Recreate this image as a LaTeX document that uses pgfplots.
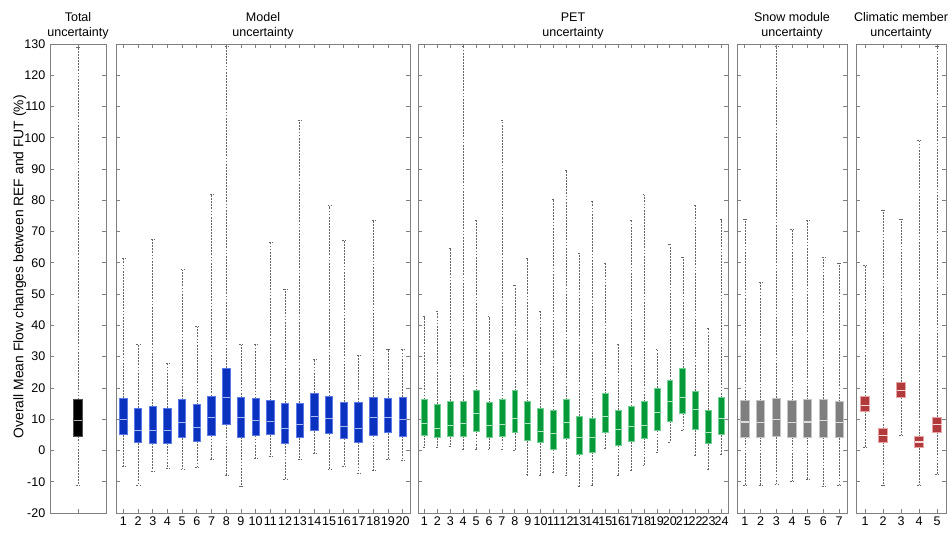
\documentclass[border=0pt]{standalone}
\usepackage{fontspec}
\setmainfont{Liberation Sans}
\usepackage{pgfplots}
\pgfplotsset{compat=1.18}
\usepgfplotslibrary{statistics}

\definecolor{axgray}{HTML}{808080}
\definecolor{wgray}{HTML}{666666}
\definecolor{cTot}{HTML}{000000}
\definecolor{cTotE}{HTML}{505050}
\definecolor{cTotM}{HTML}{B0B0B0}
\definecolor{cMod}{HTML}{0A32BE}
\definecolor{cModE}{HTML}{5A78E6}
\definecolor{cModM}{HTML}{A8B8F2}
\definecolor{cPet}{HTML}{06993A}
\definecolor{cPetE}{HTML}{70D092}
\definecolor{cPetM}{HTML}{B4E8C4}
\definecolor{cSnow}{HTML}{7F7F7F}
\definecolor{cSnowE}{HTML}{C4C4C4}
\definecolor{cSnowM}{HTML}{DCDCDC}
\definecolor{cClim}{HTML}{B03A3C}
\definecolor{cClimE}{HTML}{E8A4A4}
\definecolor{cClimM}{HTML}{F6D8D8}

\pgfplotsset{
  panel/.style={
    scale only axis, height=351.75pt, ymin=-20, ymax=130,
    ytick={-20,-10,...,130}, yticklabels={},
    axis line style={draw=axgray, line width=0.7pt},
    every tick/.style={draw=axgray, line width=0.6pt},
    major tick length=3pt, tick align=inside,
    xtick pos=both, ytick pos=both,
    ticklabel style={font=\fontsize{9.4}{10}\selectfont},
    xticklabel style={yshift=0.5pt},
    /pgf/number format/assume math mode=true,
    title style={align=center, font=\fontsize{9.4}{11}\selectfont, yshift=-5.5pt},
    anchor=south west,
    boxplot/draw direction=y,
    boxplot/box extend=0.5,
    boxplot/whisker extend=0.22,
    boxplot/every whisker/.style={draw=wgray, line width=0.45pt, dash pattern=on 1.4pt off 0.9pt},
  },
  pcol/.style n args={3}{
    boxplot/every box/.style={fill=#1, draw=#2, line width=0.6pt},
    boxplot/every median/.style={draw=#3, line width=0.8pt},
  },
}

\begin{document}
\begin{tikzpicture}
\useasboundingbox (0,0) rectangle (711.75pt,404.25pt);

% Total uncertainty
\begin{axis}[panel, pcol={cTot}{cTotE}{cTotM}, at={(37.5pt,19.5pt)}, width=42pt,
  xmin=0.5, xmax=1.5, xtick={1}, xticklabels={},
  yticklabels={-20,-10,0,10,20,30,40,50,60,70,80,90,100,110,120,130},
  ylabel={Overall Mean Flow changes between REF and FUT (\%)},
  ylabel style={font=\fontsize{10.4}{12}\selectfont, at={(axis description cs:-0.54,0.525)}, anchor=center},
  boxplot/box extend=0.15, boxplot/whisker extend=0.08,
  title={Total\\uncertainty}]
\addplot[boxplot prepared={draw position=1,lower whisker=-11.0,lower quartile=4.5,median=9.5,upper quartile=16.3,upper whisker=129.0}] coordinates {};
\end{axis}

% Model uncertainty
\begin{axis}[panel, pcol={cMod}{cModE}{cModM}, at={(87pt,19.5pt)}, width=220.5pt,
  xmin=0.5, xmax=20.5, xtick={1,...,20},
  title={Model\\uncertainty}]
\addplot[boxplot prepared={draw position=1,lower whisker=-5.0,lower quartile=5.0,median=9.9,upper quartile=16.7,upper whisker=61.4}] coordinates {};
\addplot[boxplot prepared={draw position=2,lower whisker=-11.0,lower quartile=2.5,median=6.3,upper quartile=13.5,upper whisker=33.8}] coordinates {};
\addplot[boxplot prepared={draw position=3,lower whisker=-6.8,lower quartile=2.4,median=6.3,upper quartile=14.0,upper whisker=67.6}] coordinates {};
\addplot[boxplot prepared={draw position=4,lower whisker=-5.7,lower quartile=2.3,median=6.4,upper quartile=13.5,upper whisker=27.9}] coordinates {};
\addplot[boxplot prepared={draw position=5,lower whisker=-6.0,lower quartile=4.1,median=9.0,upper quartile=16.2,upper whisker=57.8}] coordinates {};
\addplot[boxplot prepared={draw position=6,lower whisker=-5.4,lower quartile=3.0,median=7.4,upper quartile=14.6,upper whisker=39.6}] coordinates {};
\addplot[boxplot prepared={draw position=7,lower whisker=-2.9,lower quartile=4.8,median=10.6,upper quartile=17.3,upper whisker=81.8}] coordinates {};
\addplot[boxplot prepared={draw position=8,lower whisker=-7.9,lower quartile=8.4,median=16.8,upper quartile=26.4,upper whisker=129.4}] coordinates {};
\addplot[boxplot prepared={draw position=9,lower whisker=-11.4,lower quartile=4.3,median=10.4,upper quartile=16.9,upper whisker=33.8}] coordinates {};
\addplot[boxplot prepared={draw position=10,lower whisker=-2.6,lower quartile=4.8,median=9.5,upper quartile=16.6,upper whisker=33.8}] coordinates {};
\addplot[boxplot prepared={draw position=11,lower whisker=-1.9,lower quartile=5.0,median=9.3,upper quartile=15.9,upper whisker=66.5}] coordinates {};
\addplot[boxplot prepared={draw position=12,lower whisker=-9.1,lower quartile=2.3,median=7.0,upper quartile=15.1,upper whisker=51.6}] coordinates {};
\addplot[boxplot prepared={draw position=13,lower whisker=-2.8,lower quartile=4.1,median=8.3,upper quartile=15.1,upper whisker=105.6}] coordinates {};
\addplot[boxplot prepared={draw position=14,lower whisker=-0.9,lower quartile=6.3,median=11.0,upper quartile=18.4,upper whisker=29.1}] coordinates {};
\addplot[boxplot prepared={draw position=15,lower whisker=-6.0,lower quartile=5.4,median=10.1,upper quartile=17.3,upper whisker=78.3}] coordinates {};
\addplot[boxplot prepared={draw position=16,lower whisker=-5.0,lower quartile=3.8,median=7.6,upper quartile=15.4,upper whisker=67.2}] coordinates {};
\addplot[boxplot prepared={draw position=17,lower whisker=-7.2,lower quartile=2.7,median=7.1,upper quartile=15.3,upper whisker=30.3}] coordinates {};
\addplot[boxplot prepared={draw position=18,lower whisker=-6.4,lower quartile=4.8,median=10.4,upper quartile=17.0,upper whisker=73.7}] coordinates {};
\addplot[boxplot prepared={draw position=19,lower whisker=-2.8,lower quartile=5.7,median=10.4,upper quartile=16.8,upper whisker=32.5}] coordinates {};
\addplot[boxplot prepared={draw position=20,lower whisker=-3.0,lower quartile=4.6,median=9.8,upper quartile=17.0,upper whisker=32.3}] coordinates {};
\end{axis}

% PET uncertainty
\begin{axis}[panel, pcol={cPet}{cPetE}{cPetM}, at={(313.5pt,19.5pt)}, width=232.5pt,
  xmin=0.5, xmax=24.5, xtick={1,...,24}, boxplot/box extend=0.46,
  title={PET\\uncertainty}]
\addplot[boxplot prepared={draw position=1,lower whisker=0.9,lower quartile=4.9,median=8.6,upper quartile=16.3,upper whisker=42.8}] coordinates {};
\addplot[boxplot prepared={draw position=2,lower whisker=0.9,lower quartile=4.1,median=7.0,upper quartile=14.8,upper whisker=44.6}] coordinates {};
\addplot[boxplot prepared={draw position=3,lower whisker=1.2,lower quartile=4.4,median=8.0,upper quartile=15.8,upper whisker=64.6}] coordinates {};
\addplot[boxplot prepared={draw position=4,lower whisker=0.3,lower quartile=4.6,median=8.5,upper quartile=15.8,upper whisker=129.4}] coordinates {};
\addplot[boxplot prepared={draw position=5,lower whisker=0.5,lower quartile=6.1,median=11.9,upper quartile=19.2,upper whisker=73.7}] coordinates {};
\addplot[boxplot prepared={draw position=6,lower whisker=0.3,lower quartile=4.1,median=7.9,upper quartile=15.3,upper whisker=42.8}] coordinates {};
\addplot[boxplot prepared={draw position=7,lower whisker=0.3,lower quartile=4.5,median=8.4,upper quartile=16.3,upper whisker=105.6}] coordinates {};
\addplot[boxplot prepared={draw position=8,lower whisker=0.2,lower quartile=5.7,median=10.1,upper quartile=19.1,upper whisker=52.8}] coordinates {};
\addplot[boxplot prepared={draw position=9,lower whisker=-7.7,lower quartile=3.1,median=8.6,upper quartile=15.6,upper whisker=61.5}] coordinates {};
\addplot[boxplot prepared={draw position=10,lower whisker=-8.0,lower quartile=2.5,median=6.0,upper quartile=13.5,upper whisker=44.6}] coordinates {};
\addplot[boxplot prepared={draw position=11,lower whisker=-7.0,lower quartile=0.3,median=5.4,upper quartile=12.8,upper whisker=80.3}] coordinates {};
\addplot[boxplot prepared={draw position=12,lower whisker=-7.8,lower quartile=3.8,median=8.8,upper quartile=16.2,upper whisker=89.5}] coordinates {};
\addplot[boxplot prepared={draw position=13,lower whisker=-11.5,lower quartile=-1.3,median=4.1,upper quartile=11.0,upper whisker=63.2}] coordinates {};
\addplot[boxplot prepared={draw position=14,lower whisker=-11.1,lower quartile=-0.6,median=4.1,upper quartile=10.4,upper whisker=79.6}] coordinates {};
\addplot[boxplot prepared={draw position=15,lower whisker=0.8,lower quartile=5.9,median=11.0,upper quartile=18.1,upper whisker=59.8}] coordinates {};
\addplot[boxplot prepared={draw position=16,lower whisker=-7.8,lower quartile=1.6,median=6.6,upper quartile=12.9,upper whisker=34.1}] coordinates {};
\addplot[boxplot prepared={draw position=17,lower whisker=-6.4,lower quartile=2.8,median=7.7,upper quartile=14.1,upper whisker=73.7}] coordinates {};
\addplot[boxplot prepared={draw position=18,lower whisker=-4.9,lower quartile=3.9,median=8.1,upper quartile=15.6,upper whisker=81.8}] coordinates {};
\addplot[boxplot prepared={draw position=19,lower whisker=-0.6,lower quartile=6.4,median=12.1,upper quartile=19.9,upper whisker=32.5}] coordinates {};
\addplot[boxplot prepared={draw position=20,lower whisker=2.6,lower quartile=9.4,median=15.6,upper quartile=22.4,upper whisker=65.9}] coordinates {};
\addplot[boxplot prepared={draw position=21,lower whisker=6.4,lower quartile=11.9,median=17.0,upper quartile=26.4,upper whisker=61.8}] coordinates {};
\addplot[boxplot prepared={draw position=22,lower whisker=-1.5,lower quartile=6.6,median=13.0,upper quartile=19.0,upper whisker=78.3}] coordinates {};
\addplot[boxplot prepared={draw position=23,lower whisker=-6.0,lower quartile=2.1,median=5.8,upper quartile=12.9,upper whisker=39.2}] coordinates {};
\addplot[boxplot prepared={draw position=24,lower whisker=-1.1,lower quartile=5.0,median=10.3,upper quartile=16.9,upper whisker=73.8}] coordinates {};
\end{axis}

% Snow module uncertainty
\begin{axis}[panel, pcol={cSnow}{cSnowE}{cSnowM}, at={(552.75pt,19.5pt)}, width=82.5pt,
  xmin=0.5, xmax=7.5, xtick={1,...,7}, boxplot/box extend=0.53,
  title={Snow module\\uncertainty}]
\addplot[boxplot prepared={draw position=1,lower whisker=-11.1,lower quartile=4.2,median=9.1,upper quartile=15.9,upper whisker=73.9}] coordinates {};
\addplot[boxplot prepared={draw position=2,lower whisker=-11.0,lower quartile=4.2,median=8.9,upper quartile=15.9,upper whisker=53.9}] coordinates {};
\addplot[boxplot prepared={draw position=3,lower whisker=-10.7,lower quartile=4.4,median=10.0,upper quartile=16.7,upper whisker=129.4}] coordinates {};
\addplot[boxplot prepared={draw position=4,lower whisker=-9.9,lower quartile=4.2,median=9.0,upper quartile=15.9,upper whisker=70.8}] coordinates {};
\addplot[boxplot prepared={draw position=5,lower whisker=-9.1,lower quartile=4.2,median=9.1,upper quartile=16.2,upper whisker=73.7}] coordinates {};
\addplot[boxplot prepared={draw position=6,lower whisker=-11.4,lower quartile=4.3,median=9.5,upper quartile=16.4,upper whisker=61.8}] coordinates {};
\addplot[boxplot prepared={draw position=7,lower whisker=-11.0,lower quartile=4.1,median=9.0,upper quartile=15.6,upper whisker=59.8}] coordinates {};
\end{axis}

% Climatic member uncertainty
\begin{axis}[panel, pcol={cClim}{cClimE}{cClimM}, at={(642pt,19.5pt)}, width=67.5pt,
  xmin=0.5, xmax=5.5, xtick={1,...,5},
  title={Climatic member\\uncertainty}]
\addplot[boxplot prepared={draw position=1,lower whisker=1.1,lower quartile=12.6,median=14.5,upper quartile=17.3,upper whisker=59.3}] coordinates {};
\addplot[boxplot prepared={draw position=2,lower whisker=-11.3,lower quartile=2.7,median=4.8,upper quartile=7.0,upper whisker=76.9}] coordinates {};
\addplot[boxplot prepared={draw position=3,lower whisker=4.9,lower quartile=16.9,median=19.1,upper quartile=21.8,upper whisker=73.9}] coordinates {};
\addplot[boxplot prepared={draw position=4,lower whisker=-11.1,lower quartile=0.9,median=2.7,upper quartile=4.4,upper whisker=99.1}] coordinates {};
\addplot[boxplot prepared={draw position=5,lower whisker=-7.7,lower quartile=5.9,median=8.3,upper quartile=10.6,upper whisker=129.4}] coordinates {};
\end{axis}
\end{tikzpicture}
\end{document}
